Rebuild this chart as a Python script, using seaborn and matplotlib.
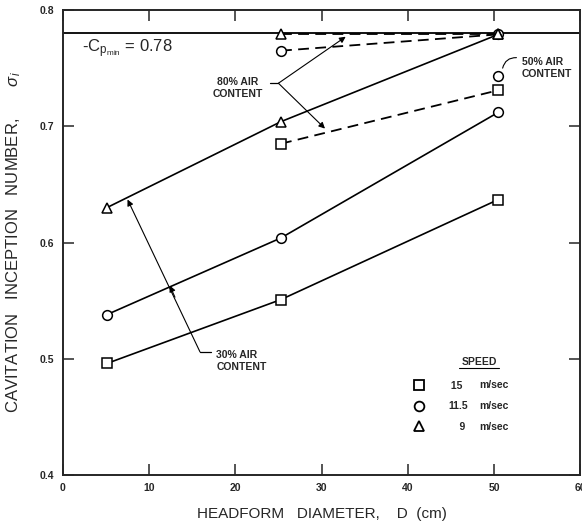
import numpy as np
import pandas as pd
import matplotlib
matplotlib.use("Agg")
import matplotlib.pyplot as plt
from matplotlib.lines import Line2D
import seaborn as sns

# Données
diam = [5.1, 25.3, 50.5]
speeds = ["15", "11.5", "9"]
markers = {"15": "s", "11.5": "o", "9": "^"}

# 30% air (traits pleins)
sigma_30 = {
    "15": [0.496, 0.551, 0.637],
    "11.5": [0.538, 0.604, 0.712],
    "9": [0.630, 0.704, 0.779],
}
# 80% air (tirets), D = 25 et 50
diam_80 = [25.3, 50.5]
sigma_80 = {
    "15": [0.685, 0.731],
    "11.5": [0.765, 0.779],
    "9": [0.779, 0.779],
}
# 50% air, un seul point
diam_50 = [50.5]
sigma_50 = [0.743]

cp_min = 0.78

sns.set_style("ticks")
plt.rcParams['font.family'] = ['Liberation Sans', 'DejaVu Sans']
plt.rcParams['mathtext.fontset'] = 'custom'
plt.rcParams['mathtext.rm'] = 'Liberation Sans'
plt.rcParams['mathtext.it'] = 'Liberation Sans:italic'

fig = plt.figure(figsize=(5.82, 5.25), dpi=100)
ax = fig.add_axes([0.108, 0.095, 0.889, 0.886])

rows = []
for s in speeds:
    for d, v in zip(diam, sigma_30[s]):
        rows.append({"D": d, "sigma": v, "speed": s, "air": "30"})
    for d, v in zip(diam_80, sigma_80[s]):
        rows.append({"D": d, "sigma": v, "speed": s, "air": "80"})
df = pd.DataFrame(rows)

mk = dict(markersize=7, markerfacecolor="white", markeredgecolor="black",
          markeredgewidth=1.1, color="black")

for s in speeds:
    sub = df[(df.speed == s) & (df.air == "30")]
    sns.lineplot(data=sub, x="D", y="sigma", ax=ax, marker=markers[s],
                 linewidth=1.2, zorder=3, **mk)
    sub = df[(df.speed == s) & (df.air == "80")]
    sns.lineplot(data=sub, x="D", y="sigma", ax=ax, marker=markers[s],
                 linewidth=1.3, dashes=(6, 3.5), zorder=2, **mk)

ax.plot(diam_50, sigma_50, linestyle="none", marker="o", **mk)

ax.axhline(cp_min, color="black", linewidth=1.3, zorder=1)
ax.text(2.2, 0.767, r"-C$_{\mathrm{p}_{\mathrm{min}}}$ = 0.78", fontsize=12,
        va="center", ha="left")

# annotations
ax.text(20.3, 0.733, "80% AIR\nCONTENT", fontsize=7.5, fontweight="bold",
        ha="center", va="center", linespacing=1.2)
ax.plot([24.0, 25.0], [0.737, 0.737], color="black", linewidth=0.9)
arr = dict(arrowstyle="-|>", color="black", linewidth=0.8,
           mutation_scale=9, shrinkA=0, shrinkB=0)
ax.annotate("", xy=(32.8, 0.777), xytext=(25.0, 0.737), arrowprops=arr)
ax.annotate("", xy=(30.4, 0.698), xytext=(25.0, 0.737), arrowprops=arr)

ax.text(53.2, 0.750, "50% AIR\nCONTENT", fontsize=7.5, fontweight="bold",
        ha="left", va="center", linespacing=1.2)
ax.annotate("", xy=(51.0, 0.750), xytext=(52.6, 0.759),
            arrowprops=dict(arrowstyle="-", color="black", linewidth=0.8,
                            connectionstyle="arc3,rad=0.4",
                            shrinkA=0, shrinkB=0))

ax.text(17.8, 0.498, "30% AIR\nCONTENT", fontsize=7.5, fontweight="bold",
        ha="left", va="center", linespacing=1.2)
ax.plot([15.9, 17.2], [0.506, 0.506], color="black", linewidth=0.9)
ax.annotate("", xy=(7.5, 0.637), xytext=(15.9, 0.506), arrowprops=arr)
ax.annotate("", xy=(12.4, 0.563), xytext=(13.0, 0.553), arrowprops=arr)

# légende
handles = [Line2D([], [], linestyle="none", marker=markers[s],
                  markersize=7, markerfacecolor="white",
                  markeredgecolor="black", markeredgewidth=1.3)
           for s in speeds]
labels = [" 15", "11.5", "    9"]
leg = ax.legend(handles, labels, loc="upper left", bbox_to_anchor=(0.658, 0.214),
                frameon=False, handletextpad=1.8, labelspacing=1.0,
                prop={"size": 7.5, "weight": "bold"}, borderpad=0)
for y in [0.4772, 0.4594, 0.4412]:
    ax.text(48.3, y, "m/sec", fontsize=7.5, fontweight="bold",
            ha="left", va="center")
ax.text(48.3, 0.497, "SPEED", fontsize=7.5, fontweight="bold",
        ha="center", va="center")
ax.plot([45.9, 50.6], [0.4925, 0.4925], color="black", linewidth=0.8)

ax.set_xlim(0, 60)
ax.set_ylim(0.4, 0.8)
ax.set_xticks([0, 10, 20, 30, 40, 50, 60])
ax.set_yticks([0.4, 0.5, 0.6, 0.7, 0.8])
ax.set_xticklabels(["0", "10", "20", "30", "40", "50", "60"])
ax.set_yticklabels(["0.4", "0.5", "0.6", "0.7", "0.8"])
ax.tick_params(direction="in", length=8, width=1.1, top=True, right=True,
               labelsize=7.5, pad=6)
for lab in ax.get_xticklabels() + ax.get_yticklabels():
    lab.set_fontweight("bold")
for sp in ax.spines.values():
    sp.set_visible(True)
    sp.set_linewidth(1.4)

ax.set_xlabel("HEADFORM   DIAMETER,    D  (cm)", fontsize=11, labelpad=10)
ax.set_ylabel(r"CAVITATION   INCEPTION   NUMBER,       $\sigma_i$",
              fontsize=12, labelpad=12)

plt.savefig("out.png", dpi=100)
